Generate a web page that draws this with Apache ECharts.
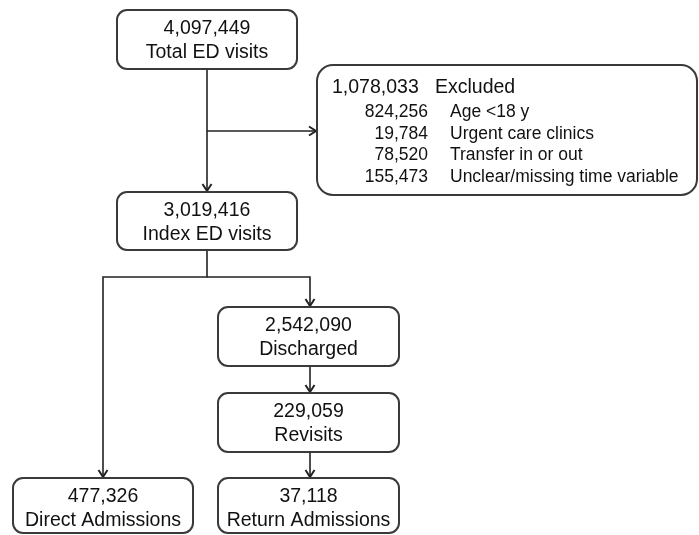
<!DOCTYPE html>
<html>
<head>
<meta charset="utf-8">
<script src="https://cdn.jsdelivr.net/npm/echarts@6/dist/echarts.min.js"></script>
<style>html,body{margin:0;padding:0;background:#fff}#c{width:699px;height:535px}</style>
</head>
<body>
<div id="c"></div>
<script>
// ---- data ----
const nodeCounts = [4097449, 3019416, 2542090, 229059, 477326, 37118];
const nodeLabels = ['Total ED visits', 'Index ED visits', 'Discharged', 'Revisits', 'Direct Admissions', 'Return Admissions'];
const excludedTotal = 1078033;
const excludedTitle = 'Excluded';
const excludedCounts = [824256, 19784, 78520, 155473];
const excludedReasons = ['Age <18 y', 'Urgent care clinics', 'Transfer in or out', 'Unclear/missing time variable'];

// ---- layout (positions in the hidden 699x535 coordinate space) ----
const nodeBoxes = [
  [117, 10, 297, 69],
  [117, 192, 297, 250],
  [218, 307, 399, 366],
  [218, 393, 399, 452],
  [13, 478, 193, 533],
  [218, 478, 399, 533]
];
const excludedBox = [317, 65, 697, 195];
const edgePaths = [
  [[207, 69], [207, 192]],
  [[207, 131], [317, 131]],
  [[207, 250], [207, 277], [103, 277], [103, 478]],
  [[207, 277], [310, 277], [310, 307]],
  [[310, 366], [310, 393]],
  [[310, 452], [310, 478]]
];

const fmt = v => v.toLocaleString('en-US');
const FONT = '"Liberation Sans", Arial, sans-serif';
const INK = '#111';

const chart = echarts.init(document.getElementById('c'));

function boxRender(params, api) {
  const i = params.dataIndex;
  const p0 = api.coord([api.value(0), api.value(1)]);
  const p1 = api.coord([api.value(2), api.value(3)]);
  const cx = (p0[0] + p1[0]) / 2;
  return {
    type: 'group',
    children: [
      { type: 'rect', shape: { x: p0[0], y: p0[1], width: p1[0] - p0[0], height: p1[1] - p0[1], r: 10 },
        style: { fill: '#fff', stroke: '#3a3a3a', lineWidth: 2 } },
      { type: 'text', style: { text: fmt(nodeCounts[i]), x: cx, y: p0[1] + 19, align: 'center', verticalAlign: 'middle',
        font: '19.5px ' + FONT, fill: INK } },
      { type: 'text', style: { text: nodeLabels[i], x: cx, y: p0[1] + 43, align: 'center', verticalAlign: 'middle',
        font: '19.5px ' + FONT, fill: INK } }
    ]
  };
}

function exclRender(params, api) {
  const p0 = api.coord([api.value(0), api.value(1)]);
  const p1 = api.coord([api.value(2), api.value(3)]);
  const children = [
    { type: 'rect', shape: { x: p0[0], y: p0[1], width: p1[0] - p0[0], height: p1[1] - p0[1], r: 16 },
      style: { fill: '#fff', stroke: '#3a3a3a', lineWidth: 2 } },
    { type: 'text', style: { text: fmt(excludedTotal), x: p0[0] + 15, y: p0[1] + 23, align: 'left', verticalAlign: 'middle',
      font: '19.5px ' + FONT, fill: INK } },
    { type: 'text', style: { text: excludedTitle, x: p0[0] + 118, y: p0[1] + 23, align: 'left', verticalAlign: 'middle',
      font: '19.5px ' + FONT, fill: INK } }
  ];
  excludedCounts.forEach((c, k) => {
    const y = p0[1] + 47 + k * 21.7;
    children.push({ type: 'text', style: { text: fmt(c), x: p0[0] + 111, y: y, align: 'right', verticalAlign: 'middle',
      font: '17.5px ' + FONT, fill: INK } });
    children.push({ type: 'text', style: { text: excludedReasons[k], x: p0[0] + 133, y: y, align: 'left', verticalAlign: 'middle',
      font: '17.5px ' + FONT, fill: INK } });
  });
  return { type: 'group', children: children };
}

function edgeRender(params, api) {
  const path = edgePaths[params.dataIndex].map(p => api.coord(p));
  const n = path.length;
  const a = path[n - 2], b = path[n - 1];
  const dx = b[0] - a[0], dy = b[1] - a[1];
  const L = Math.hypot(dx, dy);
  const ux = dx / L, uy = dy / L;
  const nx = -uy, ny = ux;
  const tip = [b[0] - ux * 1, b[1] - uy * 1];
  const head = [
    [tip[0] - ux * 7 + nx * 4.5, tip[1] - uy * 7 + ny * 4.5],
    tip,
    [tip[0] - ux * 7 - nx * 4.5, tip[1] - uy * 7 - ny * 4.5]
  ];
  return {
    type: 'group',
    children: [
      { type: 'polyline', shape: { points: path }, style: { stroke: '#222', lineWidth: 1.6, fill: null } },
      { type: 'polyline', shape: { points: head }, style: { stroke: '#222', lineWidth: 2, fill: null, lineJoin: 'miter' } }
    ]
  };
}

chart.setOption({
  animation: false,
  grid: { left: 0, right: 0, top: 0, bottom: 0 },
  xAxis: { type: 'value', min: 0, max: 699, show: false },
  yAxis: { type: 'value', min: 0, max: 535, inverse: true, show: false },
  series: [
    { type: 'custom', name: 'edges', renderItem: edgeRender, data: edgePaths.map((p, i) => [i]), encode: { x: [], y: [] }, z: 1 },
    { type: 'custom', name: 'boxes', renderItem: boxRender, data: nodeBoxes, z: 2 },
    { type: 'custom', name: 'excluded', renderItem: exclRender, data: [excludedBox], z: 2 }
  ]
});
</script>
</body>
</html>
